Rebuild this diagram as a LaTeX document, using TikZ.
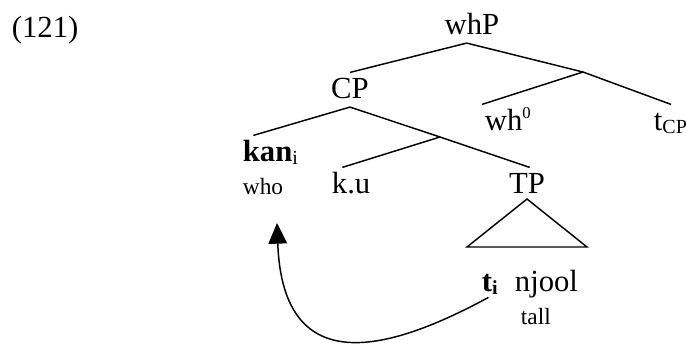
\documentclass[tikz,border=0pt]{standalone}
\usepackage{fontspec}
\setmainfont{Liberation Serif}
\usetikzlibrary{arrows.meta}
\newcommand{\glosstxt}{\fontsize{17.5}{19}\selectfont}
\newcommand{\subtxt}[1]{\raisebox{-2.5pt}{\fontsize{15}{15}\selectfont #1}}
\newcommand{\suptxt}[1]{\raisebox{9pt}{\fontsize{12.5}{13}\selectfont #1}}

\begin{document}
\begin{tikzpicture}[x=0.75pt,y=-0.75pt,
    lbl/.style={inner sep=2pt, text height=17pt, text depth=4.6pt, font=\fontsize{23}{27}\selectfont},
    gloss/.style={inner sep=2pt, font=\glosstxt},
    branch/.style={line width=1.1pt}]
			%%%%% START %%%%%
			\useasboundingbox (0,0) rectangle (686,344);
			
			\node[lbl, anchor=base west] (exno) at (9,37) {(121)};
			
			\node[lbl, anchor=base] (whP) at (472,34) {whP};
			\node[lbl, anchor=base] (CP) at (350,98) {CP};
			\node[lbl, anchor=base west] (wh0) at (482,130) {wh\suptxt{0}};
			\node[lbl, anchor=base west] (tCP) at (651,130) {t\subtxt{CP}};
			\node[lbl, anchor=base west] (kan) at (240,161) {\textbf{kan}\subtxt{i}};
			\node[gloss, anchor=base west] (who) at (240,194) {who};
			\node[lbl, anchor=base west] (ku) at (329,193) {k.u};
			\node[lbl, anchor=base] (TP) at (527,193) {TP};
			\node[lbl, anchor=base west] (ti) at (479,291) {\textbf{t}\subtxt{\textbf{i}}};
			\node[lbl, anchor=base west] (njool) at (512,291) {njool};
			\node[gloss, anchor=base west] (tall) at (518,324) {tall};
			
			\coordinate (whbar) at (583,72);
			\coordinate (cbar) at (440,137);
			\coordinate (tip) at (277,223);
			
			\draw[branch] ([xshift=-4pt]whP.south) -- (CP.north);
			\draw[branch] ([xshift=-4pt]whP.south) -- (whbar);
			\draw[branch] (whbar) -- (wh0.north west);
			\draw[branch] (whbar) -- ([xshift=15pt]tCP.north west);
			
			\draw[branch] (CP.south) -- ([xshift=10pt]kan.north west);
			\draw[branch] (CP.south) -- (cbar);
			\draw[branch] (cbar) -- ([xshift=10pt]ku.north west);
			\draw[branch] (cbar) -- ([xshift=2pt]TP.north);
			
			\draw[branch] (527,199) -- (467,247) -- (587,247) -- cycle;
			
			\draw[branch, -{Triangle[length=15.5pt, width=14pt]}] ([xshift=-1pt, yshift=2pt]ti.south) .. controls (395,348) and (283,385) .. (tip);
			
			%%%%% END %%%%%
\end{tikzpicture}
\end{document}
